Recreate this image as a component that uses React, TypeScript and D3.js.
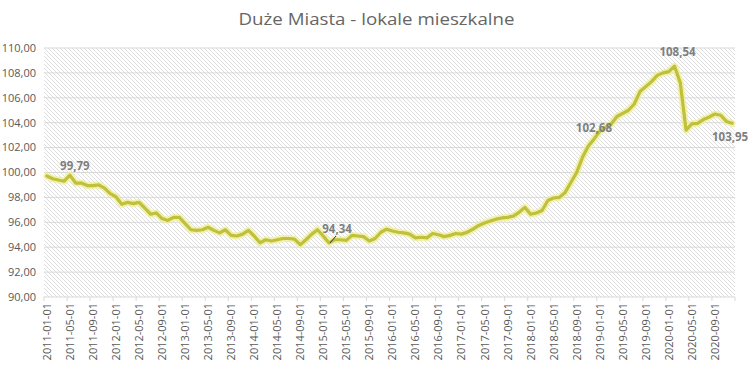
import React from 'react';
import * as d3 from 'd3';

// Index values, one array per year (Jan..Dec)
const years = [2011, 2012, 2013, 2014, 2015, 2016, 2017, 2018, 2019, 2020];
const values2011 = [99.72, 99.5, 99.4, 99.3, 99.79, 99.15, 99.15, 98.95, 98.95, 99.0, 98.75, 98.3];
const values2012 = [98.05, 97.45, 97.6, 97.5, 97.6, 97.15, 96.65, 96.75, 96.3, 96.15, 96.4, 96.4];
const values2013 = [95.9, 95.4, 95.35, 95.4, 95.6, 95.35, 95.15, 95.4, 94.95, 94.9, 95.05, 95.35];
const values2014 = [94.9, 94.35, 94.6, 94.5, 94.6, 94.7, 94.7, 94.65, 94.2, 94.6, 95.05, 95.4];
const values2015 = [94.9, 94.34, 94.6, 94.6, 94.55, 94.95, 94.9, 94.85, 94.5, 94.7, 95.2, 95.45];
const values2016 = [95.3, 95.2, 95.15, 95.05, 94.75, 94.8, 94.75, 95.1, 95.0, 94.85, 94.95, 95.1];
const values2017 = [95.05, 95.2, 95.45, 95.75, 95.95, 96.1, 96.25, 96.35, 96.4, 96.5, 96.8, 97.2];
const values2018 = [96.65, 96.75, 96.95, 97.75, 97.95, 98.0, 98.4, 99.2, 100.0, 101.2, 102.1, 102.68];
const values2019 = [103.3, 103.6, 103.9, 104.5, 104.75, 105.0, 105.5, 106.5, 106.9, 107.3, 107.8, 108.0];
const values2020 = [108.1, 108.54, 107.2, 103.4, 103.9, 103.95, 104.25, 104.45, 104.7, 104.6, 104.1, 103.95];

const values = [
  ...values2011, ...values2012, ...values2013, ...values2014, ...values2015,
  ...values2016, ...values2017, ...values2018, ...values2019, ...values2020,
];
const months = years.flatMap(y => d3.range(1, 13).map(m => `${y}-${String(m).padStart(2, '0')}-01`));
const yTicks = [90, 92, 94, 96, 98, 100, 102, 104, 106, 108, 110];

// labelled points: index into values, label offset
const labelled = [
  { i: 4, dx: 5, dy: -9 },
  { i: 49, dx: 8, dy: -14, leader: true },
  { i: 95, dx: 0, dy: -11 },
  { i: 109, dx: 3, dy: -14 },
  { i: 119, dx: -2, dy: 14 },
];

const title = 'Duże Miasta - lokale mieszkalne';
const fmt = (v: number) => d3.format('.2f')(v).replace('.', ',');

export default function App() {
  const width = 753, height = 371;
  const left = 44, right = 735, top = 48, bottom = 297;

  const x = d3.scaleBand<string>().domain(months).range([left, right]);
  const y = d3.scaleLinear().domain([90, 110]).range([bottom, top]);
  const cx = (i: number) => (x(months[i]) as number) + x.bandwidth() / 2;

  const line = d3.line<number>()
    .x((_, i) => cx(i))
    .y(d => y(d));

  const font = "'Open Sans', 'Noto Sans', sans-serif";
  const textColor = '#595959';

  return (
    <svg width={width} height={height} style={{ position: 'absolute', left: 0, top: 0, background: '#fff' }}>
      <defs>
        <pattern id="hatch" width={4} height={4} patternUnits="userSpaceOnUse">
          <path d="M-1,-1 L5,5 M3,-1 L5,1 M-1,3 L1,5" stroke="#d6d6d6" strokeWidth={0.8} />
        </pattern>
      </defs>

      <text x={width / 2} y={25} textAnchor="middle" fontFamily={font} fontSize={17} fill="#666"
        textLength={276} lengthAdjust="spacingAndGlyphs">{title}</text>

      <rect x={left} y={top} width={right - left} height={bottom - top} fill="url(#hatch)" />

      {yTicks.map(t => (
        <g key={t}>
          <line x1={left} x2={right} y1={y(t)} y2={y(t)} stroke="#d9d9d9" strokeWidth={1} />
          <text x={36} y={y(t)} dy="0.35em" textAnchor="end" fontFamily={font} fontSize={11} fill={textColor}>
            {fmt(t)}
          </text>
        </g>
      ))}

      {months.map((m, i) => i % 4 === 0 ? (
        <g key={m}>
          <line x1={x(m)} x2={x(m)} y1={bottom} y2={bottom + 4} stroke="#d9d9d9" />
          <text transform={`translate(${cx(i) + 4},${bottom + 6}) rotate(-90)`} textAnchor="end"
            fontFamily={font} fontSize={11} fill={textColor}>{m}</text>
        </g>
      ) : null)}
      <line x1={right} x2={right} y1={bottom} y2={bottom + 4} stroke="#d9d9d9" />

      <path d={line(values) ?? ''} fill="none" stroke="#eeee90" strokeOpacity={0.7} strokeWidth={7}
        strokeLinejoin="round" strokeLinecap="round" />
      <path d={line(values) ?? ''} fill="none" stroke="#c0c03c" strokeWidth={3.2}
        strokeLinejoin="round" strokeLinecap="round" />

      {labelled.map(l => {
        const px = cx(l.i), py = y(values[l.i]);
        return (
          <g key={l.i}>
            {l.leader && <line x1={px + 1} y1={py} x2={px + 7} y2={py - 7} stroke="#333" strokeWidth={1} />}
            <text x={px + l.dx} y={py + l.dy} dy="0.35em" textAnchor="middle" fontFamily={font}
              fontSize={11.5} fontWeight="bold" fill="#7f7f7f">{fmt(values[l.i])}</text>
          </g>
        );
      })}
    </svg>
  );
}
